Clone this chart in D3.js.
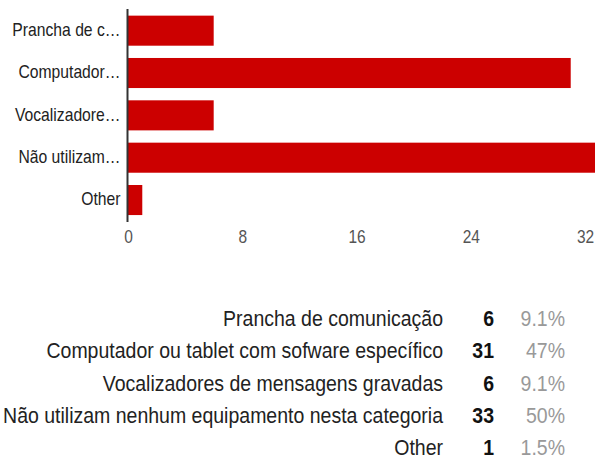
<!DOCTYPE html>
<html>
<head>
<meta charset="utf-8">
<script src="https://cdn.jsdelivr.net/npm/d3@7"></script>
<style>
  html, body { margin: 0; padding: 0; background: #fff; }
  svg { display: block; }
</style>
</head>
<body>
<svg id="chart" width="595" height="459"></svg>
<script>
// Survey answers: short axis labels, full legend labels, counts and shares
const shortLabels = ["Prancha de c…", "Computador…", "Vocalizadore…", "Não utilizam…", "Other"];
const fullLabels = [
  "Prancha de comunicação",
  "Computador ou tablet com sofware específico",
  "Vocalizadores de mensagens gravadas",
  "Não utilizam nenhum equipamento nesta categoria",
  "Other"
];
const counts = [6, 31, 6, 33, 1];
const percents = ["9.1%", "47%", "9.1%", "50%", "1.5%"];
const xTicks = [0, 8, 16, 24, 32];

const svg = d3.select("#chart");
const font = "Arial, 'Liberation Sans', sans-serif";
const tall = "scale(1,1.13)"; // glyphs are slightly taller than wide

const x = d3.scaleLinear().domain([0, 32]).range([128, 585]);
const y = d3.scaleBand()
  .domain(shortLabels)
  .range([9.5, 221.2])
  .paddingInner(0.29)
  .paddingOuter(0.145);

// bars
svg.append("g")
  .selectAll("rect")
  .data(counts)
  .join("rect")
  .attr("x", x(0))
  .attr("y", (d, i) => y(shortLabels[i]))
  .attr("width", d => x(d) - x(0))
  .attr("height", y.bandwidth())
  .attr("fill", "#cc0000");

// vertical baseline
svg.append("line")
  .attr("x1", x(0) - 0.5).attr("x2", x(0) - 0.5)
  .attr("y1", 9).attr("y2", 222)
  .attr("stroke", "#333").attr("stroke-width", 2);

// category labels
const yAxis = d3.axisLeft(y).tickSize(0).tickPadding(6);
const gy = svg.append("g").attr("transform", `translate(${x(0) - 1.5},0)`).call(yAxis);
gy.select(".domain").remove();
gy.attr("font-family", font).attr("font-size", 15.7);
gy.selectAll("text")
  .attr("fill", "#222")
  .attr("dy", "0.3em")
  .attr("transform", tall);

// value axis labels
const xAxis = d3.axisBottom(x).tickValues(xTicks).tickSize(0).tickPadding(0);
const gx = svg.append("g").attr("transform", "translate(0,231)").call(xAxis);
gx.select(".domain").remove();
gx.attr("font-family", font).attr("font-size", 15.5);
gx.selectAll("text")
  .attr("fill", "#555")
  .attr("transform", tall);

// summary table
const rowY = d3.scalePoint().domain(d3.range(fullLabels.length)).range([326, 455]);
const table = svg.append("g").attr("font-family", font).attr("font-size", 19.5);
const rows = table.selectAll("g").data(fullLabels).join("g")
  .attr("transform", (d, i) => `translate(0,${rowY(i)})`);
rows.append("text")
  .attr("transform", `translate(443,0) ${tall}`)
  .attr("text-anchor", "end").attr("fill", "#222")
  .text(d => d);
rows.append("text")
  .attr("transform", `translate(494,0) ${tall}`)
  .attr("text-anchor", "end").attr("fill", "#111")
  .attr("font-weight", "bold")
  .text((d, i) => counts[i]);
rows.append("text")
  .attr("transform", `translate(565,0) ${tall}`)
  .attr("text-anchor", "end").attr("fill", "#999")
  .text((d, i) => percents[i]);
</script>
</body>
</html>
